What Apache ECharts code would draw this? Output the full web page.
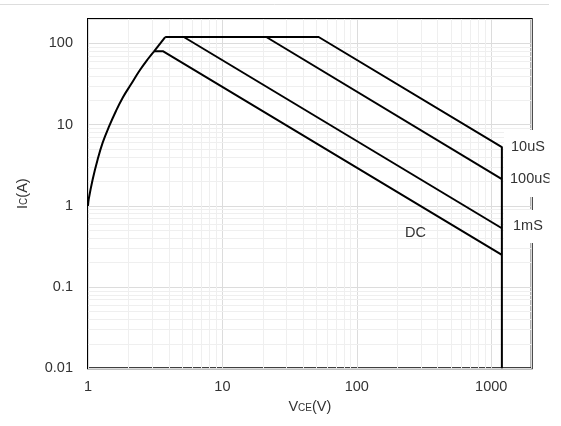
<!DOCTYPE html>
<html>
<head>
<meta charset="utf-8">
<script src="https://cdn.jsdelivr.net/npm/echarts@6/dist/echarts.min.js"></script>
<style>
  html, body { margin: 0; padding: 0; background: #fff; }
  #soa { width: 561px; height: 426px; }
</style>
</head>
<body>
<div id="soa"></div>
<script>
// 安全工作区 (SOA) 曲线数据，读图估值
var riseCurve = [[1, 1], [1.012, 1.206], [1.084, 2.13], [1.181, 3.75], [1.286, 6.0], [1.44, 9.64],
                 [1.615, 14.75], [1.812, 21.5], [2.089, 31.4], [2.408, 45.8], [2.782, 63.9], [3.1, 80]];
var riseTop = [[3.1, 80], [3.75, 120]];
var line10us = [[3.75, 120], [52, 120], [1200, 5.3], [1200, 0.01]];
var line100us = [[21.2, 120], [1200, 2.13]];
var line1ms = [[5.16, 120], [1200, 0.53]];
var lineDC = [[3.1, 80], [3.63, 80], [1200, 0.25]];

// 次网格线位置
var xMinor = [2, 3, 4, 5, 6, 7, 8, 9, 20, 30, 40, 50, 60, 70, 80, 90, 200, 300, 400, 500, 600, 700, 800, 900];
var yMinor = [0.02, 0.03, 0.04, 0.05, 0.06, 0.07, 0.08, 0.09, 0.2, 0.3, 0.4, 0.5, 0.6, 0.7, 0.8, 0.9,
              2, 3, 4, 5, 6, 7, 8, 9, 20, 30, 40, 50, 60, 70, 80, 90];

var fontFam = "'Liberation Sans', Arial, sans-serif";
var txtColor = '#333';

function numLabel(v) {
    return String(+v.toPrecision(6));
}

function soaChart() {
    var myChart = echarts.init(document.getElementById('soa'));

    var minorLines = [];
    for (var i = 0; i < xMinor.length; i++) minorLines.push({ xAxis: xMinor[i] });
    for (var j = 0; j < yMinor.length; j++) minorLines.push({ yAxis: yMinor[j] });

    function blackLine(data, smooth) {
        return {
            type: 'line',
            data: data,
            smooth: smooth || false,
            symbol: 'none',
            silent: true,
            z: 5,
            lineStyle: { color: '#000', width: 2 }
        };
    }

    var nameRich = {
        m: { fontSize: 14.5, fontFamily: fontFam, color: txtColor },
        s: { fontSize: 10, fontFamily: fontFam, color: txtColor, padding: [4, 0, 0, 0] }
    };

    var option = {
        animation: false,
        backgroundColor: '#fff',
        grid: {
            left: 88,
            top: 19,
            right: 29.3,
            bottom: 57.7,
            show: true,
            borderColor: '#000',
            borderWidth: 2,
            backgroundColor: 'transparent'
        },
        xAxis: {
            type: 'log',
            logBase: 10,
            min: 1,
            max: 2000,
            name: '{m|V}{s|CE}{m|(V)}',
            nameLocation: 'middle',
            nameGap: 30,
            nameTextStyle: { rich: nameRich },
            axisLine: { show: false },
            axisTick: { show: false },
            axisLabel: { margin: 11, fontSize: 14.5, fontFamily: fontFam, color: txtColor, showMaxLabel: false, formatter: numLabel },
            splitLine: { show: true, lineStyle: { color: '#dcdcdc', width: 1 } }
        },
        yAxis: {
            type: 'log',
            logBase: 10,
            min: 0.01,
            max: 200,
            name: '{m|I}{s|C}{m|(A)}',
            nameLocation: 'middle',
            nameRotate: 90,
            nameGap: 58,
            nameTextStyle: { rich: nameRich },
            axisLine: { show: false },
            axisTick: { show: false },
            axisLabel: { margin: 15, fontSize: 14.5, fontFamily: fontFam, color: txtColor, showMaxLabel: false, formatter: numLabel },
            splitLine: { show: true, lineStyle: { color: '#dcdcdc', width: 1 } }
        },
        series: [
            {
                type: 'line',
                data: [],
                z: 1,
                silent: true,
                markLine: {
                    silent: true,
                    symbol: 'none',
                    label: { show: false },
                    lineStyle: { color: '#efefef', width: 1, type: 'solid' },
                    data: minorLines
                }
            },
            blackLine(riseCurve, 0.4),
            blackLine(riseTop),
            blackLine(line10us),
            blackLine(line100us),
            blackLine(line1ms),
            blackLine(lineDC)
        ],
        graphic: [
            { type: 'line', z: 100, shape: { x1: 0, y1: 4.5, x2: 549, y2: 4.5 }, style: { stroke: '#dddddd', lineWidth: 1 } },
            { type: 'rect', z: 100, shape: { x: 504, y: 130, width: 57, height: 67 }, style: { fill: '#fff' } },
            { type: 'rect', z: 100, shape: { x: 504, y: 210, width: 57, height: 33 }, style: { fill: '#fff' } },
            { type: 'text', z: 101, style: { text: '10uS', x: 511, y: 147, verticalAlign: 'middle', font: '14.5px ' + fontFam, fill: txtColor } },
            { type: 'text', z: 101, style: { text: '100uS', x: 510, y: 179, verticalAlign: 'middle', font: '14.5px ' + fontFam, fill: txtColor } },
            { type: 'text', z: 101, style: { text: '1mS', x: 513, y: 226, verticalAlign: 'middle', font: '14.5px ' + fontFam, fill: txtColor } },
            { type: 'text', z: 101, style: { text: 'DC', x: 405, y: 233, verticalAlign: 'middle', font: '14.5px ' + fontFam, fill: txtColor } },
            { type: 'rect', z: 102, shape: { x: 549.5, y: 0, width: 12, height: 426 }, style: { fill: '#fff' } }
        ]
    };

    myChart.setOption(option);
}

soaChart();
</script>
</body>
</html>
